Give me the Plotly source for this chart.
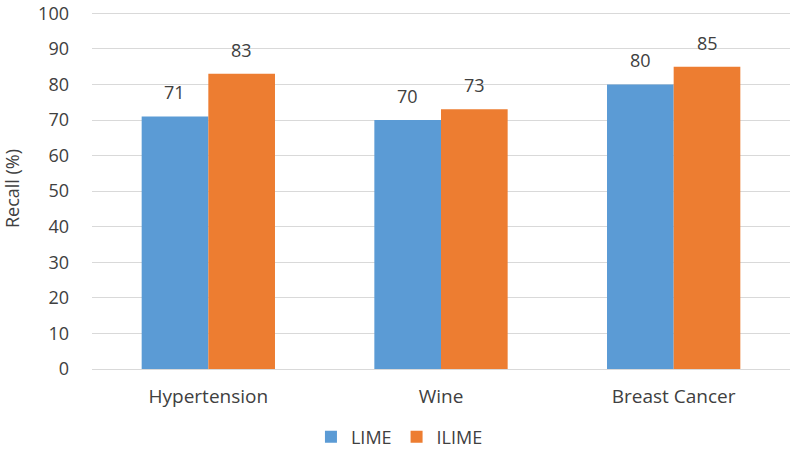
import plotly.graph_objects as go

categories = ["Hypertension", "Wine", "Breast Cancer"]
lime = [71, 70, 80]
ilime = [83, 73, 85]
y_ticks = list(range(0, 101, 10))

font_family = "Open Sans, Liberation Sans, sans-serif"
text_color = "#404040"
fig = go.Figure()
fig.add_trace(go.Bar(name="LIME", x=categories, y=lime, marker_color="#5B9BD5",
                     marker_line_width=0))
fig.add_trace(go.Bar(name="ILIME", x=categories, y=ilime, marker_color="#ED7D31",
                     marker_line_width=0))

# data labels above bars
for vals, shift in ((lime, -33.5), (ilime, 33.5)):
    for c, v in zip(categories, vals):
        fig.add_annotation(x=c, y=v, text=str(v), showarrow=False,
                           xshift=shift, yshift=10, yanchor="bottom",
                           font=dict(size=18, color=text_color))

fig.update_layout(
    width=791, height=459,
    margin=dict(l=92, r=1, t=6, b=90),
    barmode="group", bargap=0.427, bargroupgap=0,
    plot_bgcolor="white", paper_bgcolor="white",
    font=dict(family=font_family, size=18, color=text_color),
    legend=dict(orientation="h", xref="container", yref="container",
                x=0.505, xanchor="center", y=0.048, yanchor="middle",
                font=dict(size=18, color=text_color), itemwidth=30,
                traceorder="normal"),
    xaxis=dict(showline=False, ticks="", tickfont=dict(size=19),
               ticklabelstandoff=14),
    yaxis=dict(range=[0, 101.5], tickvals=y_ticks, showgrid=True,
               gridcolor="#D9D9D9", gridwidth=1.3, zeroline=True,
               zerolinecolor="#D9D9D9", zerolinewidth=1.3,
               ticks="", ticklabelstandoff=22, ticklabeloverflow="allow",
               tickfont=dict(size=18),
               title=dict(text="Recall (%)", font=dict(size=18), standoff=20)),
)

fig.write_html("out.html")
